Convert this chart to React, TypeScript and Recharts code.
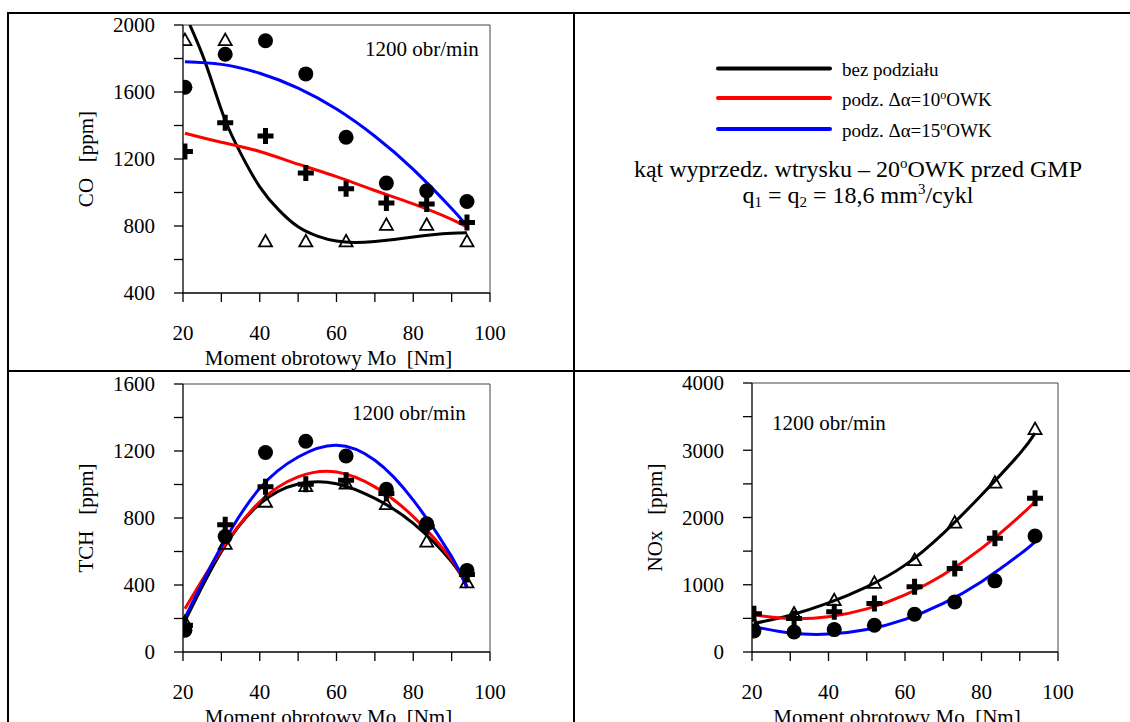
import React from 'react';
import { ComposedChart, Line, Scatter, XAxis, YAxis, ReferenceLine } from 'recharts';

const FONT = '"Liberation Serif", "Times New Roman", serif';

// measuring points, torque Mo [Nm]
const MO = [20.5, 31, 41.5, 52, 62.5, 73, 83.5, 94];
const X_TICKS = [20, 30, 40, 50, 60, 70, 80, 90, 100];
const FIT_X = [20.5, 30, 40, 50, 60, 70, 80, 90, 94];

// CO [ppm]
const CO_TICKS = [400, 600, 800, 1000, 1200, 1400, 1600, 1800, 2000];
const CO_TRI = [1910, 1910, 708, 708, 708, 807, 807, 708];
const CO_CROSS = [1245, 1417, 1338, 1116, 1022, 937, 932, 821];
const CO_DOT = [1628, 1825, 1906, 1708, 1330, 1056, 1010, 946];
const CO_BLACK_X = [21.8, 25, 28, 31, 35, 40, 45, 50, 55, 60, 65, 70, 75, 80, 85, 90, 94];
const CO_BLACK = [2000, 1826, 1629, 1431, 1235, 1034, 895, 795, 740, 710, 702, 708, 720, 735, 748, 757, 760];
const CO_RED = [1354, 1300, 1245, 1169, 1095, 1012, 932, 840, 792];
const CO_BLUE = [1781, 1765, 1712, 1623, 1498, 1336, 1138, 904, 800];

// TCH [ppm]
const TCH_TICKS = [0, 200, 400, 600, 800, 1000, 1200, 1400, 1600];
const TCH_TRI = [180, 646, 897, 990, 1006, 883, 659, 416];
const TCH_CROSS = [160, 759, 986, 1002, 1026, 947, 750, 462];
const TCH_DOT = [130, 689, 1191, 1258, 1170, 971, 765, 487];
const TCH_BLACK = [184, 599, 884, 1003, 1005, 917, 768, 539, 392];
const TCH_RED = [258, 610, 897, 1046, 1075, 986, 808, 551, 383];
const TCH_BLUE = [204, 630, 977, 1164, 1234, 1145, 907, 570, 383];

// NOx [ppm]
const NOX_TICKS = [0, 500, 1000, 1500, 2000, 2500, 3000, 3500, 4000];
const NOX_TRI = [420, 572, 770, 1029, 1367, 1923, 2519, 3314];
const NOX_CROSS = [570, 500, 600, 721, 969, 1243, 1690, 2286];
const NOX_DOT = [313, 298, 333, 398, 562, 745, 1058, 1724];
const NOX_BLACK = [423, 547, 730, 969, 1292, 1765, 2335, 2950, 3255];
const NOX_RED = [552, 497, 524, 642, 850, 1150, 1540, 2020, 2235];
const NOX_BLUE = [377, 283, 266, 334, 486, 723, 1046, 1452, 1639];

const pts = (xs: number[], ys: number[]) => xs.map((x, i) => ({ x, y: ys[i] }));

const Tri = (props: any) => {
  const { cx, cy } = props;
  if (cx == null || cy == null) return null;
  return (
    <polygon
      points={`${cx},${cy - 6.5} ${cx - 6.5},${cy + 5} ${cx + 6.5},${cy + 5}`}
      fill="none"
      stroke="#000"
      strokeWidth={1.8}
    />
  );
};

const Cross = (props: any) => {
  const { cx, cy } = props;
  if (cx == null || cy == null) return null;
  return (
    <path d={`M${cx - 8},${cy}H${cx + 8}M${cx},${cy - 8}V${cy + 8}`} stroke="#000" strokeWidth={5} fill="none" />
  );
};

const Dot = (props: any) => {
  const { cx, cy } = props;
  if (cx == null || cy == null) return null;
  return <circle cx={cx} cy={cy} r={7.5} fill="#000" />;
};

const tickStyle = { fontSize: 21, fill: '#000', fontFamily: FONT };

type PanelProps = {
  left: number;
  top: number;
  width: number;
  height: number;
  plot: { x0: number; x1: number; y0: number; y1: number };
  yTicks: number[];
  yLabelEvery: number;
  yTitle: string;
  tri: number[];
  cross: number[];
  dot: number[];
  black: { x: number; y: number }[];
  red: number[];
  blue: number[];
};

function Panel(p: PanelProps) {
  const YW = 70;
  const XH = 70;
  const margin = {
    top: p.plot.y0 - p.top,
    right: p.left + p.width - p.plot.x1,
    bottom: p.top + p.height - p.plot.y1 - XH,
    left: p.plot.x0 - p.left - YW,
  };
  const yMin = p.yTicks[0];
  const yMax = p.yTicks[p.yTicks.length - 1];

  const xTitle = (props: any) => {
    const vb = props.viewBox;
    if (!vb) return null;
    return (
      <text
        x={vb.x + vb.width / 2 - 8}
        y={vb.y + 72}
        textAnchor="middle"
        fontSize={21}
        fontFamily={FONT}
        fill="#000"
        style={{ whiteSpace: 'pre' }}
      >
        Moment obrotowy Mo  [Nm]
      </text>
    );
  };

  const yTitle = (props: any) => {
    const vb = props.viewBox;
    if (!vb) return null;
    const x = vb.x + vb.width - 90;
    const y = vb.y + vb.height / 2;
    return (
      <text
        x={x}
        y={y}
        transform={`rotate(-90 ${x} ${y})`}
        textAnchor="middle"
        fontSize={21}
        fontFamily={FONT}
        fill="#000"
        style={{ whiteSpace: 'pre' }}
      >
        {p.yTitle}
      </text>
    );
  };

  return (
    <div style={{ position: 'absolute', left: p.left, top: p.top }}>
      <ComposedChart width={p.width} height={p.height} margin={margin}>
        <XAxis
          dataKey="x"
          type="number"
          domain={[20, 100]}
          ticks={X_TICKS}
          interval={0}
          allowDataOverflow
          height={XH}
          tickSize={9}
          tickMargin={23}
          tick={tickStyle}
          tickFormatter={(v: number) => (v % 20 === 0 ? String(v) : '')}
          axisLine={{ stroke: '#000', strokeWidth: 1.3 }}
          tickLine={{ stroke: '#000', strokeWidth: 1.3 }}
          label={{ content: xTitle }}
        />
        <YAxis
          dataKey="y"
          type="number"
          domain={[yMin, yMax]}
          ticks={p.yTicks}
          interval={0}
          allowDataOverflow
          width={YW}
          tickSize={9}
          tickMargin={19}
          tick={tickStyle}
          tickFormatter={(v: number) => (v % p.yLabelEvery === 0 ? String(v) : '')}
          axisLine={{ stroke: '#000', strokeWidth: 1.3 }}
          tickLine={{ stroke: '#000', strokeWidth: 1.3 }}
          label={{ content: yTitle }}
        />
        <ReferenceLine y={yMax} stroke="#444" strokeWidth={1} />
        <ReferenceLine x={100} stroke="#444" strokeWidth={1} />
        <Scatter data={pts(MO, p.tri)} dataKey="y" shape={Tri} isAnimationActive={false} />
        <Scatter data={pts(MO, p.cross)} dataKey="y" shape={Cross} isAnimationActive={false} />
        <Scatter data={pts(MO, p.dot)} dataKey="y" shape={Dot} isAnimationActive={false} />
        <Line data={p.black} dataKey="y" type="natural" stroke="#000" strokeWidth={3} dot={false} isAnimationActive={false} />
        <Line data={pts(FIT_X, p.red)} dataKey="y" type="natural" stroke="#ff0000" strokeWidth={3} dot={false} isAnimationActive={false} />
        <Line data={pts(FIT_X, p.blue)} dataKey="y" type="natural" stroke="#0000ff" strokeWidth={3} dot={false} isAnimationActive={false} />
      </ComposedChart>
    </div>
  );
}

const LEGEND = [
  { color: '#000000', main: 'bez podziału' },
  { color: '#ff0000', main: 'podz. Δα=10', sup: 'o', tail: 'OWK' },
  { color: '#0000ff', main: 'podz. Δα=15', sup: 'o', tail: 'OWK' },
];
const LEGEND_Y = [68.5, 98, 129];

export default function App() {
  return (
    <div
      style={{
        position: 'absolute',
        left: 0,
        top: 0,
        width: 1130,
        height: 722,
        overflow: 'hidden',
        background: '#fff',
        fontFamily: FONT,
      }}
    >
      <Panel
        left={20}
        top={14}
        width={540}
        height={360}
        plot={{ x0: 183, x1: 490, y0: 25, y1: 293 }}
        yTicks={CO_TICKS}
        yLabelEvery={400}
        yTitle="CO   [ppm]"
        tri={CO_TRI}
        cross={CO_CROSS}
        dot={CO_DOT}
        black={pts(CO_BLACK_X, CO_BLACK)}
        red={CO_RED}
        blue={CO_BLUE}
      />
      <Panel
        left={20}
        top={360}
        width={540}
        height={362}
        plot={{ x0: 183, x1: 490, y0: 384, y1: 652 }}
        yTicks={TCH_TICKS}
        yLabelEvery={400}
        yTitle="TCH   [ppm]"
        tri={TCH_TRI}
        cross={TCH_CROSS}
        dot={TCH_DOT}
        black={pts(FIT_X, TCH_BLACK)}
        red={TCH_RED}
        blue={TCH_BLUE}
      />
      <Panel
        left={590}
        top={360}
        width={540}
        height={362}
        plot={{ x0: 752, x1: 1058, y0: 383, y1: 652 }}
        yTicks={NOX_TICKS}
        yLabelEvery={1000}
        yTitle="NOx   [ppm]"
        tri={NOX_TRI}
        cross={NOX_CROSS}
        dot={NOX_DOT}
        black={pts(FIT_X, NOX_BLACK)}
        red={NOX_RED}
        blue={NOX_BLUE}
      />

      <svg
        width={1130}
        height={722}
        style={{ position: 'absolute', left: 0, top: 0, pointerEvents: 'none' }}
        fontFamily={FONT}
      >
        {/* table frame */}
        <line x1={7} y1={13} x2={1130} y2={13} stroke="#000" strokeWidth={2} />
        <line x1={8} y1={12} x2={8} y2={722} stroke="#000" strokeWidth={2} />
        <line x1={574} y1={12} x2={574} y2={722} stroke="#000" strokeWidth={2} />
        <line x1={7} y1={371} x2={1130} y2={371} stroke="#000" strokeWidth={2} />

        {/* speed notes */}
        <text x={365} y={56} fontSize={21} fill="#000">1200 obr/min</text>
        <text x={352} y={420} fontSize={21} fill="#000">1200 obr/min</text>
        <text x={772} y={430} fontSize={21} fill="#000">1200 obr/min</text>

        {/* legend */}
        {LEGEND.map((l, i) => (
          <g key={l.main}>
            <line x1={718} y1={LEGEND_Y[i]} x2={830} y2={LEGEND_Y[i]} stroke={l.color} strokeWidth={4} strokeLinecap="round" />
            <text x={842} y={LEGEND_Y[i] + 7.5} fontSize={19} fill="#000">
              {l.main}
              {l.sup && (
                <tspan fontSize={12} dy={-7}>
                  {l.sup}
                </tspan>
              )}
              {l.tail && <tspan dy={7}>{l.tail}</tspan>}
            </text>
          </g>
        ))}

        <text x={858} y={177} fontSize={24} fill="#000" textAnchor="middle">
          kąt wyprzedz. wtrysku – 20
          <tspan fontSize={15} dy={-9}>o</tspan>
          <tspan dy={9}>OWK przed GMP</tspan>
        </text>
        <text x={858} y={203} fontSize={24} fill="#000" textAnchor="middle">
          q<tspan fontSize={15} dy={4}>1</tspan>
          <tspan dy={-4}> = q</tspan>
          <tspan fontSize={15} dy={4}>2</tspan>
          <tspan dy={-4}> = 18,6 mm</tspan>
          <tspan fontSize={15} dy={-9}>3</tspan>
          <tspan dy={9}>/cykl</tspan>
        </text>
      </svg>
    </div>
  );
}
